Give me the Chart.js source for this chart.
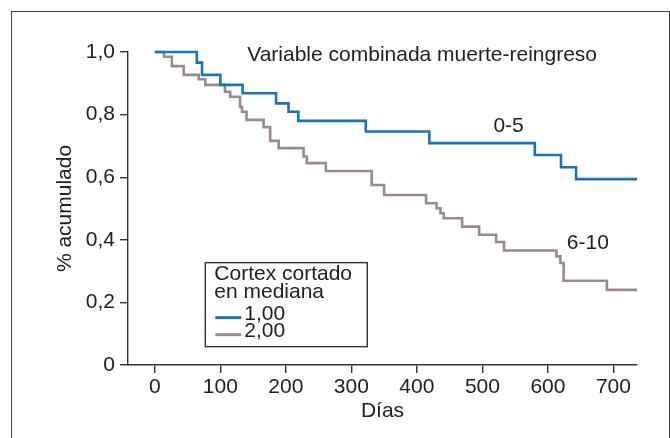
<!DOCTYPE html>
<html>
<head>
<meta charset="utf-8">
<script src="https://cdn.jsdelivr.net/npm/chart.js@4"></script>
<style>
  html, body { margin: 0; padding: 0; background: #fff; }
  #wrap { position: relative; width: 670px; height: 438px; overflow: hidden; }
  #frame { position: absolute; left: 11px; top: 11px; width: 659px; height: 500px;
           border: 1.5px solid #444; box-sizing: border-box; }
  canvas { position: absolute; left: 0; top: 0; }
</style>
</head>
<body>
<div id="wrap">
  <div id="frame"></div>
  <canvas id="km" width="670" height="438"></canvas>
</div>
<script>
// Kaplan-Meier curves: event-free proportion (death or readmission) by cortex group
const blueTimes  = [0, 64, 72, 100, 134, 185, 204, 219, 322, 419, 580, 620, 643, 736];
const blueValues = [1.0, 0.966, 0.927, 0.895, 0.868, 0.836, 0.809, 0.780, 0.746, 0.709, 0.671, 0.632, 0.594, 0.594];

const grayTimes  = [0, 14, 26, 44, 67, 77, 107, 115, 130, 133, 140, 166, 176, 189, 227, 232, 261,
                    331, 350, 414, 430, 436, 441, 469, 495, 521, 533, 613, 619, 624, 690, 736];
const grayValues = [1.0, 0.985, 0.955, 0.927, 0.913, 0.895, 0.873, 0.857, 0.825, 0.809, 0.783, 0.760, 0.716, 0.693, 0.666, 0.645, 0.620,
                    0.575, 0.543, 0.517, 0.501, 0.485, 0.469, 0.442, 0.416, 0.393, 0.366, 0.347, 0.326, 0.269, 0.240, 0.240];

const seriesLabels = ['1,00', '2,00'];
const curveTags    = ['0-5', '6-10'];
const xTicks = [0, 100, 200, 300, 400, 500, 600, 700];
const yTicks = [0, 0.2, 0.4, 0.6, 0.8, 1.0];
const yTickLabels = ['0', '0,2', '0,4', '0,6', '0,8', '1,0'];

const BLUE = '#1b73ba';
const GRAY = '#9a8b87';
const INK  = '#222222';
const FONT = "'Liberation Sans', Arial, Helvetica, sans-serif";

const toPoints = (ts, vs) => ts.map((t, i) => ({ x: t, y: vs[i] }));

// Annotation text and the boxed legend drawn inside the plot area
const annotations = {
  id: 'annotations',
  afterDatasetsDraw(chart) {
    const { ctx, scales: { x, y } } = chart;
    ctx.save();
    ctx.fillStyle = INK;
    ctx.font = '21px ' + FONT;
    ctx.textBaseline = 'middle';

    ctx.textAlign = 'left';
    ctx.fillText('Variable combinada muerte-reingreso', x.getPixelForValue(141), y.getPixelForValue(0.99));

    ctx.textAlign = 'center';
    ctx.fillText(curveTags[0], x.getPixelForValue(540), y.getPixelForValue(0.762));
    ctx.fillText(curveTags[1], x.getPixelForValue(661), y.getPixelForValue(0.389));

    // legend box
    const bx = x.getPixelForValue(77);
    const by = y.getPixelForValue(0.327);
    const bw = 162, bh = 84;
    ctx.strokeStyle = '#333';
    ctx.lineWidth = 1.4;
    ctx.strokeRect(bx, by, bw, bh);

    ctx.textAlign = 'left';
    ctx.fillText('Cortex cortado', bx + 9, by + 12);
    ctx.fillText('en mediana', bx + 9, by + 30);

    chart.data.datasets.forEach((ds, i) => {
      const ly = by + 52 + i * 17;
      ctx.strokeStyle = ds.borderColor;
      ctx.lineWidth = 3;
      ctx.beginPath();
      ctx.moveTo(bx + 10, ly + 3);
      ctx.lineTo(bx + 36, ly + 3);
      ctx.stroke();
      ctx.fillStyle = INK;
      ctx.fillText(ds.label, bx + 39, ly);
    });
    ctx.restore();
  }
};

new Chart(document.getElementById('km'), {
  type: 'line',
  data: {
    datasets: [
      { label: seriesLabels[0], data: toPoints(blueTimes, blueValues), borderColor: BLUE },
      { label: seriesLabels[1], data: toPoints(grayTimes, grayValues), borderColor: GRAY }
    ]
  },
  options: {
    responsive: false,
    devicePixelRatio: 1,
    animation: false,
    layout: { padding: { left: 0, right: 33, top: 52, bottom: 12 } },
    elements: {
      line: { stepped: 'before', borderWidth: 2.6, tension: 0, fill: false, borderCapStyle: 'butt' },
      point: { radius: 0, hoverRadius: 0 }
    },
    datasets: { line: { clip: 6 } },
    plugins: { legend: { display: false }, tooltip: { enabled: false }, title: { display: false } },
    scales: {
      x: {
        type: 'linear',
        min: -41,
        max: 736,
        afterBuildTicks: (s) => { s.ticks = xTicks.map(v => ({ value: v })); },
        afterFit: (s) => { s.height = 61; },
        border: { display: true, color: '#333', width: 1.4 },
        grid: { display: true, drawOnChartArea: false, drawTicks: true, tickLength: 8, color: '#333', lineWidth: 1.4 },
        ticks: { color: INK, padding: 2, maxRotation: 0, autoSkip: false, font: { family: FONT, size: 21 } },
        title: { display: true, text: 'Días', color: INK, padding: { top: 0, bottom: 2 }, font: { family: FONT, size: 21 } }
      },
      y: {
        type: 'linear',
        min: 0,
        max: 1,
        afterBuildTicks: (s) => { s.ticks = yTicks.map(v => ({ value: v })); },
        afterFit: (s) => { s.width = 128; },
        border: { display: true, color: '#333', width: 1.4 },
        grid: { display: true, drawOnChartArea: false, drawTicks: true, tickLength: 8, color: '#333', lineWidth: 1.4 },
        ticks: {
          color: INK, padding: 5, autoSkip: false,
          font: { family: FONT, size: 21 },
          callback: (v) => yTickLabels[yTicks.findIndex(t => Math.abs(t - v) < 1e-9)]
        },
        title: { display: true, text: '% acumulado', color: INK, padding: { top: 53, bottom: 0 }, font: { family: FONT, size: 21 } }
      }
    }
  },
  plugins: [annotations]
});
</script>
</body>
</html>
